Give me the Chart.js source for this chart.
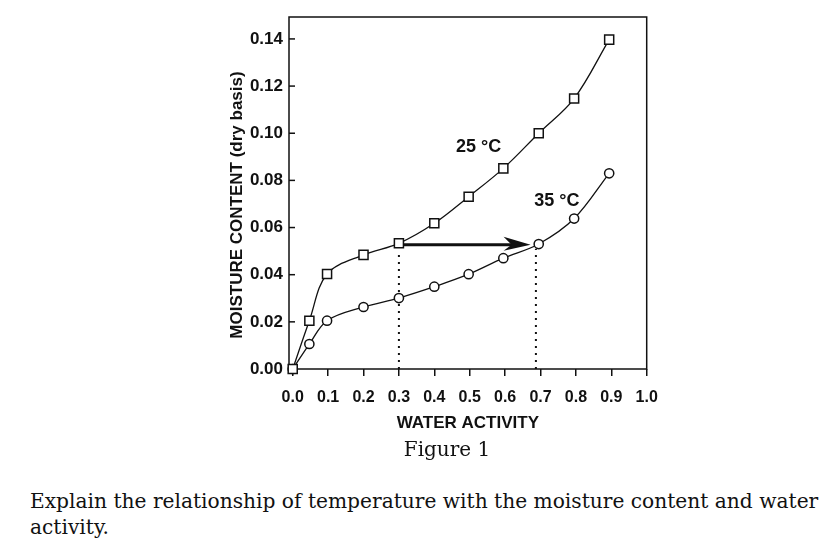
<!DOCTYPE html>
<html>
<head>
<meta charset="utf-8">
<script src="https://cdn.jsdelivr.net/npm/chart.js@4.4.0/dist/chart.umd.min.js"></script>
<style>
  html, body { margin: 0; padding: 0; background: #fff; }
  #wrap { position: absolute; left: 0; top: 0; width: 835px; height: 440px; }
  .serif { position: absolute; font-family: "DejaVu Serif", serif; color: #111; white-space: nowrap; }
  #fig { left: 447px; top: 439px; font-size: 20px; line-height: 20px; transform: translateX(-50%); }
  #question { left: 30px; top: 488px; font-size: 20.2px; line-height: 26px; }
</style>
</head>
<body>
<div id="wrap"><canvas id="chart"></canvas></div>
<div id="fig" class="serif">Figure 1</div>
<div id="question" class="serif">Explain the relationship of temperature with the moisture content and water<br>activity.</div>
<script>
// === data ===
const waterActivity = [0, 0.047, 0.097, 0.2, 0.3, 0.4, 0.497, 0.595, 0.695, 0.795, 0.894];
const moisture25 = [0, 0.0205, 0.0403, 0.0484, 0.0533, 0.0618, 0.0731, 0.0851, 0.1, 0.1147, 0.1397];
const moisture35 = [0, 0.0106, 0.0205, 0.0263, 0.0301, 0.0349, 0.0402, 0.047, 0.053, 0.0638, 0.083];

const xTicks = [0, 0.1, 0.2, 0.3, 0.4, 0.5, 0.6, 0.7, 0.8, 0.9, 1.0];
const yTicks = [0, 0.02, 0.04, 0.06, 0.08, 0.10, 0.12, 0.14];
const yTitle = "MOISTURE CONTENT (dry basis)";

// dotted guides and the arrow between the two curves
const guideX = [0.3, 0.687];
const guideTop = [0.05, 0.051];
const arrowFrom = [0.3, 0.0527];
const arrowTo = [0.672, 0.0527];

// curve labels
const curveLabels = [
  { text: "25 °C", x: 0.525, y: 0.0942 },
  { text: "35 °C", x: 0.746, y: 0.0713 },
];

const toPoints = (xs, ys) => xs.map((x, i) => ({ x, y: ys[i] }));
const FONT = "'Liberation Sans', Arial, sans-serif";

// frame, inward y ticks, y title, arrow and curve labels
const figureExtras = {
  id: "figureExtras",
  beforeDatasetsDraw(chart) {
    const { ctx, chartArea: a, scales } = chart;
    ctx.save();
    ctx.strokeStyle = "#111";
    ctx.lineWidth = 1.5;
    ctx.strokeRect(a.left, a.top, a.right - a.left, a.bottom - a.top);
    yTicks.forEach(v => {
      const py = scales.y.getPixelForValue(v);
      ctx.beginPath();
      ctx.moveTo(a.left, py);
      ctx.lineTo(a.left + 6, py);
      ctx.stroke();
    });
    // y title sits a little below the middle of the axis in the original
    ctx.translate(a.left - 52, (a.top + a.bottom) / 2 + 12);
    ctx.rotate(-Math.PI / 2);
    ctx.fillStyle = "#111";
    ctx.font = "bold 17px " + FONT;
    ctx.textAlign = "center";
    ctx.textBaseline = "middle";
    ctx.fillText(yTitle, 0, 0);
    ctx.restore();
  },
  afterDatasetsDraw(chart) {
    const { ctx, scales } = chart;
    const x0 = scales.x.getPixelForValue(arrowFrom[0]) + 5;
    const y0 = scales.y.getPixelForValue(arrowFrom[1]);
    const x1 = scales.x.getPixelForValue(arrowTo[0]);
    const y1 = scales.y.getPixelForValue(arrowTo[1]);
    ctx.save();
    ctx.strokeStyle = "#111";
    ctx.fillStyle = "#111";
    ctx.lineWidth = 3;
    ctx.beginPath();
    ctx.moveTo(x0, y0);
    ctx.lineTo(x1 - 12, y1);
    ctx.stroke();
    ctx.beginPath();
    ctx.moveTo(x1, y1);
    ctx.lineTo(x1 - 27, y1 - 8);
    ctx.lineTo(x1 - 19, y1);
    ctx.lineTo(x1 - 27, y1 + 6);
    ctx.closePath();
    ctx.fill();

    ctx.font = "bold 18px " + FONT;
    ctx.textAlign = "center";
    ctx.textBaseline = "middle";
    curveLabels.forEach(l => {
      ctx.fillText(l.text, scales.x.getPixelForValue(l.x), scales.y.getPixelForValue(l.y));
    });
    ctx.restore();
  }
};

const curveStyle = {
  borderColor: "#111",
  borderWidth: 1.3,
  backgroundColor: "#fff",
  pointBorderColor: "#111",
  pointBackgroundColor: "#fff",
  pointBorderWidth: 1.5,
  tension: 0.35,
  clip: false,
  fill: false,
};

const guideStyle = {
  borderColor: "#111",
  borderWidth: 2,
  borderDash: [2, 5],
  pointRadius: 0,
  fill: false,
};

new Chart(document.getElementById("chart"), {
  type: "line",
  data: {
    datasets: [
      { ...curveStyle, label: "25 °C", data: toPoints(waterActivity, moisture25), pointStyle: "rect", pointRadius: 6.4 },
      { ...curveStyle, label: "35 °C", data: toPoints(waterActivity, moisture35), pointStyle: "circle", pointRadius: 4.6 },
      ...guideX.map((gx, i) => ({ ...guideStyle, label: "guide", data: [{ x: gx, y: 0 }, { x: gx, y: guideTop[i] }] })),
    ]
  },
  options: {
    responsive: true,
    maintainAspectRatio: false,
    animation: false,
    layout: { padding: { left: 226.8, top: 17, right: 188.3, bottom: 6.8 } },
    plugins: {
      legend: { display: false },
      tooltip: { enabled: false },
    },
    scales: {
      x: {
        type: "linear",
        min: -0.0105,
        max: 1.0,
        afterBuildTicks: s => { s.ticks = xTicks.map(v => ({ value: v })); },
        afterFit: s => { s.height = 64.2; },
        border: { display: false },
        grid: { drawOnChartArea: false, drawTicks: true, tickLength: 7, color: "#111", lineWidth: 1.5 },
        ticks: {
          color: "#111",
          padding: 11.5,
          maxRotation: 0,
          autoSkip: false,
          font: { family: FONT, size: 16, weight: "bold" },
          callback: v => v.toFixed(1),
        },
        title: {
          display: true,
          text: "WATER ACTIVITY",
          color: "#111",
          padding: 0,
          font: { family: FONT, size: 17, weight: "bold" },
        },
      },
      y: {
        min: 0,
        max: 0.1493,
        afterBuildTicks: s => { s.ticks = yTicks.map(v => ({ value: v })); },
        afterFit: s => { s.width = 62.2; },
        border: { display: false },
        grid: { display: false, drawTicks: false },
        ticks: {
          color: "#111",
          padding: 6,
          autoSkip: false,
          font: { family: FONT, size: 17, weight: "bold" },
          callback: v => v.toFixed(2),
        },
      },
    },
  },
  plugins: [figureExtras],
});
</script>
</body>
</html>
